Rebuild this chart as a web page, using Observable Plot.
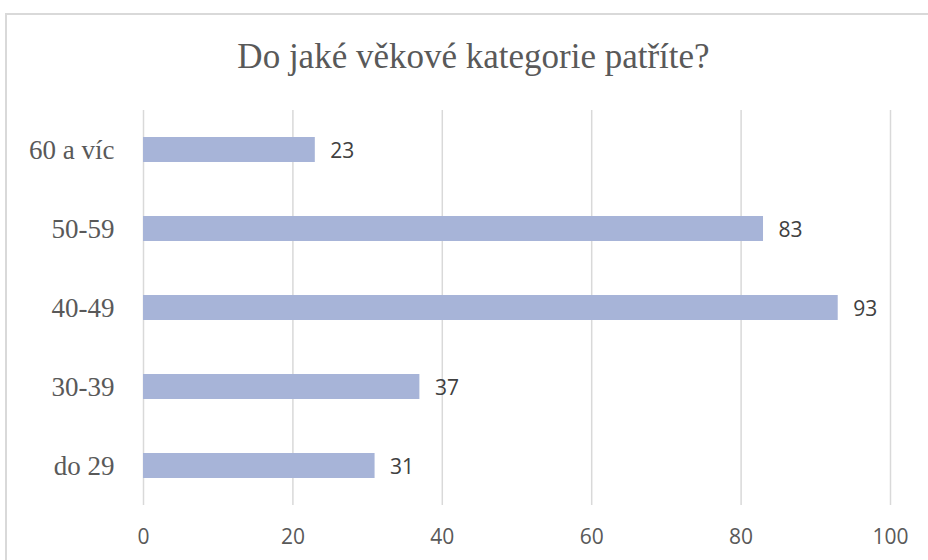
<!DOCTYPE html>
<html>
<head>
<meta charset="utf-8">
<script src="https://cdn.jsdelivr.net/npm/d3@7"></script>
<script src="https://cdn.jsdelivr.net/npm/@observablehq/plot@0.6"></script>
<style>
  html, body { margin: 0; padding: 0; background: #fff; width: 928px; height: 560px; overflow: hidden; }
  #frame { position: absolute; left: 5px; top: 13px; width: 1000px; height: 700px; border: 2px solid #d9d9d9; box-sizing: border-box; }
  #title { position: absolute; left: 0; top: 33px; width: 947px; text-align: center; font-family: "Liberation Serif", "DejaVu Serif", serif; font-size: 35px; color: #595959; line-height: 48px; }
  #chart { position: absolute; left: 0; top: 100px; }
</style>
</head>
<body>
<div id="frame"></div>
<div id="title">Do jaké věkové kategorie patříte?</div>
<div id="chart"></div>
<script>
const categories = ["60 a víc", "50-59", "40-49", "30-39", "do 29"];
const values = [23, 83, 93, 37, 31];
const xTicks = [0, 20, 40, 60, 80, 100];

const data = categories.map((c, i) => ({category: c, value: values[i]}));

const plot = Plot.plot({
  width: 928,
  height: 460,
  marginLeft: 143,
  marginRight: 38,
  marginTop: 10,
  marginBottom: 55,
  x: {domain: [0, 100]},
  y: {domain: categories, paddingInner: 0.684, paddingOuter: 0.342},
  style: {background: "transparent"},
  marks: [
    Plot.gridX(xTicks, {stroke: "#d9d9d9", strokeOpacity: 1, strokeWidth: 1.5}),
    Plot.axisX({ticks: xTicks, tickSize: 0, tickPadding: 24, fontSize: 21, fill: "#595959", fontFamily: "Open Sans, sans-serif", label: null}),
    Plot.axisY({tickSize: 0, tickPadding: 29, fontSize: 27, fill: "#595959", fontFamily: "Liberation Serif, serif", label: null}),
    Plot.barX(data, {x: "value", y: "category", fill: "#a7b4d8"}),
    Plot.text(data, {x: "value", y: "category", text: d => String(d.value), dx: 15, dy: 1, textAnchor: "start", fontSize: 21, fill: "#404040", fontFamily: "Open Sans, sans-serif"})
  ]
});
document.getElementById("chart").appendChild(plot);
</script>
</body>
</html>
